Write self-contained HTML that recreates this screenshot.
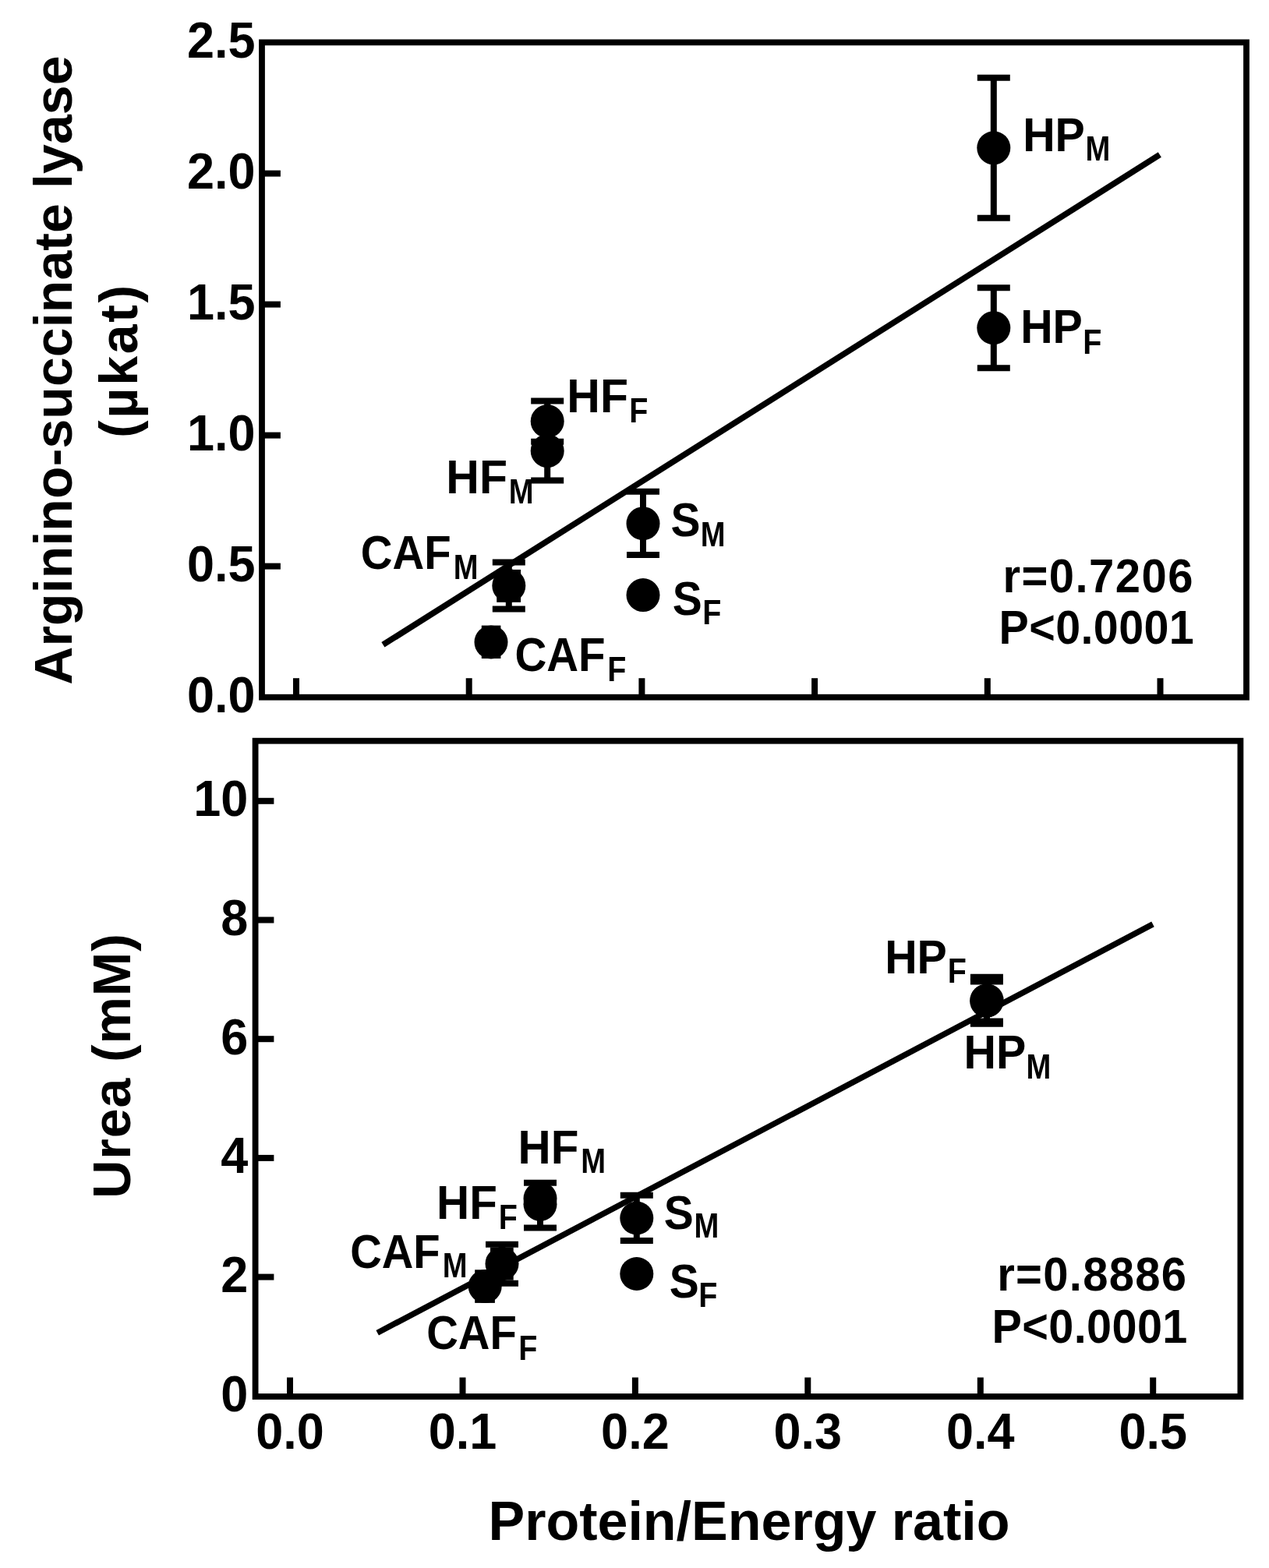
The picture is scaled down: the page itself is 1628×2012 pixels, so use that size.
<!DOCTYPE html>
<html lang="en">
<head>
<meta charset="utf-8">
<title>Protein/Energy ratio correlations</title>
<style>
html,body{margin:0;padding:0;background:#fff;}
body{width:1628px;height:2012px;overflow:hidden;}
svg{display:block;font-family:"Liberation Sans",sans-serif;font-weight:bold;fill:#000;}
</style>
</head>
<body>
<svg width="1628" height="2012" viewBox="0 0 1628 2012">
<rect x="0" y="0" width="1628" height="2012" fill="#fff"/>
<rect x="336.0" y="54.4" width="1263.0" height="840.3000000000001" fill="none" stroke="#000" stroke-width="7.8"/>
<line x1="380.0" y1="894.7" x2="380.0" y2="870.2" stroke="#000" stroke-width="8" stroke-linecap="butt"/>
<line x1="601.7" y1="894.7" x2="601.7" y2="870.2" stroke="#000" stroke-width="8" stroke-linecap="butt"/>
<line x1="823.4" y1="894.7" x2="823.4" y2="870.2" stroke="#000" stroke-width="8" stroke-linecap="butt"/>
<line x1="1045.1" y1="894.7" x2="1045.1" y2="870.2" stroke="#000" stroke-width="8" stroke-linecap="butt"/>
<line x1="1266.8" y1="894.7" x2="1266.8" y2="870.2" stroke="#000" stroke-width="8" stroke-linecap="butt"/>
<line x1="1488.5" y1="894.7" x2="1488.5" y2="870.2" stroke="#000" stroke-width="8" stroke-linecap="butt"/>
<text transform="translate(327.50,914.40) scale(1,1.02)" font-size="63" text-anchor="end">0.0</text>
<line x1="336.0" y1="726.6" x2="359.9" y2="726.6" stroke="#000" stroke-width="8" stroke-linecap="butt"/>
<text transform="translate(327.50,746.40) scale(1,1.02)" font-size="63" text-anchor="end">0.5</text>
<line x1="336.0" y1="558.6" x2="359.9" y2="558.6" stroke="#000" stroke-width="8" stroke-linecap="butt"/>
<text transform="translate(327.50,578.40) scale(1,1.02)" font-size="63" text-anchor="end">1.0</text>
<line x1="336.0" y1="390.6" x2="359.9" y2="390.6" stroke="#000" stroke-width="8" stroke-linecap="butt"/>
<text transform="translate(327.50,410.40) scale(1,1.02)" font-size="63" text-anchor="end">1.5</text>
<line x1="336.0" y1="222.6" x2="359.9" y2="222.6" stroke="#000" stroke-width="8" stroke-linecap="butt"/>
<text transform="translate(327.50,242.40) scale(1,1.02)" font-size="63" text-anchor="end">2.0</text>
<text transform="translate(327.50,74.40) scale(1,1.02)" font-size="63" text-anchor="end">2.5</text>
<line x1="491.4" y1="827.3" x2="1487.8" y2="198.6" stroke="#000" stroke-width="7.7" stroke-linecap="butt"/>
<line x1="702.2" y1="540.6" x2="702.2" y2="514.5" stroke="#000" stroke-width="8.0" stroke-linecap="butt"/>
<line x1="681.2" y1="514.5" x2="723.2" y2="514.5" stroke="#000" stroke-width="8.0" stroke-linecap="butt"/>
<line x1="702.2" y1="540.6" x2="702.2" y2="566.8" stroke="#000" stroke-width="8.0" stroke-linecap="butt"/>
<line x1="681.2" y1="566.8" x2="723.2" y2="566.8" stroke="#000" stroke-width="8.0" stroke-linecap="butt"/>
<line x1="702.2" y1="578.8" x2="702.2" y2="616.6" stroke="#000" stroke-width="8.0" stroke-linecap="butt"/>
<line x1="681.2" y1="616.6" x2="723.2" y2="616.6" stroke="#000" stroke-width="8.0" stroke-linecap="butt"/>
<line x1="825.0" y1="671.9" x2="825.0" y2="630.7" stroke="#000" stroke-width="8.0" stroke-linecap="butt"/>
<line x1="804.0" y1="630.7" x2="846.0" y2="630.7" stroke="#000" stroke-width="8.0" stroke-linecap="butt"/>
<line x1="825.0" y1="671.9" x2="825.0" y2="711.9" stroke="#000" stroke-width="8.0" stroke-linecap="butt"/>
<line x1="804.0" y1="711.9" x2="846.0" y2="711.9" stroke="#000" stroke-width="8.0" stroke-linecap="butt"/>
<line x1="652.8" y1="751.5" x2="652.8" y2="721.5" stroke="#000" stroke-width="8.0" stroke-linecap="butt"/>
<line x1="631.8" y1="721.5" x2="673.8" y2="721.5" stroke="#000" stroke-width="8.0" stroke-linecap="butt"/>
<line x1="652.8" y1="751.5" x2="652.8" y2="781.5" stroke="#000" stroke-width="8.0" stroke-linecap="butt"/>
<line x1="631.8" y1="781.5" x2="673.8" y2="781.5" stroke="#000" stroke-width="8.0" stroke-linecap="butt"/>
<line x1="1274.8" y1="189.8" x2="1274.8" y2="99.8" stroke="#000" stroke-width="8.0" stroke-linecap="butt"/>
<line x1="1253.8" y1="99.8" x2="1295.8" y2="99.8" stroke="#000" stroke-width="8.0" stroke-linecap="butt"/>
<line x1="1274.8" y1="189.8" x2="1274.8" y2="279.8" stroke="#000" stroke-width="8.0" stroke-linecap="butt"/>
<line x1="1253.8" y1="279.8" x2="1295.8" y2="279.8" stroke="#000" stroke-width="8.0" stroke-linecap="butt"/>
<line x1="1274.8" y1="420.7" x2="1274.8" y2="369.2" stroke="#000" stroke-width="8.0" stroke-linecap="butt"/>
<line x1="1253.8" y1="369.2" x2="1295.8" y2="369.2" stroke="#000" stroke-width="8.0" stroke-linecap="butt"/>
<line x1="1274.8" y1="420.7" x2="1274.8" y2="472.2" stroke="#000" stroke-width="8.0" stroke-linecap="butt"/>
<line x1="1253.8" y1="472.2" x2="1295.8" y2="472.2" stroke="#000" stroke-width="8.0" stroke-linecap="butt"/>
<circle cx="702.2" cy="540.6" r="21.5" fill="#000"/>
<circle cx="702.2" cy="578.6" r="21.5" fill="#000"/>
<circle cx="825.0" cy="671.7" r="21.5" fill="#000"/>
<circle cx="825.0" cy="763.6" r="21.5" fill="#000"/>
<circle cx="652.8" cy="751.5" r="21.5" fill="#000"/>
<circle cx="630.0" cy="824.0" r="21.5" fill="#000"/>
<circle cx="1274.8" cy="189.8" r="21.5" fill="#000"/>
<circle cx="1274.8" cy="420.7" r="21.5" fill="#000"/>
<rect x="617.8" y="802.6" width="24.6" height="42.4" fill="#000"/>
<rect x="637.2" y="730.9" width="30.9" height="41.9" fill="#000"/>
<text transform="translate(1312.16,194.00) scale(1,1.064)" font-size="57.4" text-anchor="start">HP</text>
<text transform="translate(1392.54,205.90) scale(1,1.141)" font-size="38.2" text-anchor="start">M</text>
<text transform="translate(1309.16,440.40) scale(1,1.064)" font-size="57.4" text-anchor="start">HP</text>
<text transform="translate(1389.36,453.70) scale(1,1.104)" font-size="39.5" text-anchor="start">F</text>
<text transform="translate(727.35,528.70) scale(1,1.035)" font-size="59" text-anchor="start">HF</text>
<text transform="translate(807.16,541.90) scale(1,1.104)" font-size="39.5" text-anchor="start">F</text>
<text transform="translate(572.35,633.30) scale(1,1.035)" font-size="59" text-anchor="start">HF</text>
<text transform="translate(652.84,646.20) scale(1,1.141)" font-size="38.2" text-anchor="start">M</text>
<text transform="translate(860.56,687.70) scale(1,1.071)" font-size="57" text-anchor="start">S</text>
<text transform="translate(898.84,700.50) scale(1,1.141)" font-size="38.2" text-anchor="start">M</text>
<text transform="translate(862.86,789.00) scale(1,1.071)" font-size="57" text-anchor="start">S</text>
<text transform="translate(901.16,800.70) scale(1,1.104)" font-size="39.5" text-anchor="start">F</text>
<text transform="translate(462.69,730.00) scale(1,1.082)" font-size="56.4" text-anchor="start">CAF</text>
<text transform="translate(581.64,742.50) scale(1,1.141)" font-size="38.2" text-anchor="start">M</text>
<text transform="translate(660.38,860.50) scale(1,1.079)" font-size="56.6" text-anchor="start">CAF</text>
<text transform="translate(779.36,874.00) scale(1,1.104)" font-size="39.5" text-anchor="start">F</text>
<text transform="translate(1286.40,760.20) scale(1,1.04)" font-size="58" text-anchor="start" letter-spacing="1.47">r=0.7206</text>
<text transform="translate(1281.60,826.30) scale(1,1.05)" font-size="57.4" text-anchor="start" letter-spacing="0.4">P&lt;0.0001</text>
<text transform="translate(92.20,475.00) rotate(-90) scale(1,1.0)" font-size="68" text-anchor="middle" letter-spacing="0.1">Arginino-succinate lyase</text>
<text transform="translate(176.00,462.55) rotate(-90) scale(1,1.0)" font-size="68" text-anchor="middle" letter-spacing="2.7">(µkat)</text>
<rect x="327.6" y="950.7" width="1263.8000000000002" height="841.3" fill="none" stroke="#000" stroke-width="7.8"/>
<line x1="372.0" y1="1792.0" x2="372.0" y2="1767.5" stroke="#000" stroke-width="8" stroke-linecap="butt"/>
<text transform="translate(372.00,1859.20) scale(1,1.04)" font-size="63" text-anchor="middle">0.0</text>
<line x1="593.5" y1="1792.0" x2="593.5" y2="1767.5" stroke="#000" stroke-width="8" stroke-linecap="butt"/>
<text transform="translate(593.45,1859.20) scale(1,1.04)" font-size="63" text-anchor="middle">0.1</text>
<line x1="814.9" y1="1792.0" x2="814.9" y2="1767.5" stroke="#000" stroke-width="8" stroke-linecap="butt"/>
<text transform="translate(814.90,1859.20) scale(1,1.04)" font-size="63" text-anchor="middle">0.2</text>
<line x1="1036.3" y1="1792.0" x2="1036.3" y2="1767.5" stroke="#000" stroke-width="8" stroke-linecap="butt"/>
<text transform="translate(1036.35,1859.20) scale(1,1.04)" font-size="63" text-anchor="middle">0.3</text>
<line x1="1257.8" y1="1792.0" x2="1257.8" y2="1767.5" stroke="#000" stroke-width="8" stroke-linecap="butt"/>
<text transform="translate(1257.80,1859.20) scale(1,1.04)" font-size="63" text-anchor="middle">0.4</text>
<line x1="1479.2" y1="1792.0" x2="1479.2" y2="1767.5" stroke="#000" stroke-width="8" stroke-linecap="butt"/>
<text transform="translate(1479.25,1859.20) scale(1,1.04)" font-size="63" text-anchor="middle">0.5</text>
<text transform="translate(318.30,1810.60) scale(1,1.04)" font-size="63" text-anchor="end">0</text>
<line x1="327.6" y1="1638.6" x2="351.4" y2="1638.6" stroke="#000" stroke-width="8" stroke-linecap="butt"/>
<text transform="translate(318.30,1657.90) scale(1,1.04)" font-size="63" text-anchor="end">2</text>
<line x1="327.6" y1="1485.9" x2="351.4" y2="1485.9" stroke="#000" stroke-width="8" stroke-linecap="butt"/>
<text transform="translate(318.30,1505.20) scale(1,1.04)" font-size="63" text-anchor="end">4</text>
<line x1="327.6" y1="1333.2" x2="351.4" y2="1333.2" stroke="#000" stroke-width="8" stroke-linecap="butt"/>
<text transform="translate(318.30,1352.50) scale(1,1.04)" font-size="63" text-anchor="end">6</text>
<line x1="327.6" y1="1180.5" x2="351.4" y2="1180.5" stroke="#000" stroke-width="8" stroke-linecap="butt"/>
<text transform="translate(318.30,1199.80) scale(1,1.04)" font-size="63" text-anchor="end">8</text>
<line x1="327.6" y1="1027.8" x2="351.4" y2="1027.8" stroke="#000" stroke-width="8" stroke-linecap="butt"/>
<text transform="translate(318.30,1047.10) scale(1,1.04)" font-size="63" text-anchor="end">10</text>
<line x1="484.2" y1="1710.2" x2="1479.0" y2="1185.9" stroke="#000" stroke-width="7.5" stroke-linecap="butt"/>
<line x1="693.0" y1="1538.0" x2="693.0" y2="1517.8" stroke="#000" stroke-width="8.0" stroke-linecap="butt"/>
<line x1="672.0" y1="1517.8" x2="714.0" y2="1517.8" stroke="#000" stroke-width="8.0" stroke-linecap="butt"/>
<line x1="693.0" y1="1545.3" x2="693.0" y2="1575.6" stroke="#000" stroke-width="8.0" stroke-linecap="butt"/>
<line x1="672.0" y1="1575.6" x2="714.0" y2="1575.6" stroke="#000" stroke-width="8.0" stroke-linecap="butt"/>
<line x1="816.8" y1="1563.0" x2="816.8" y2="1533.8" stroke="#000" stroke-width="8.0" stroke-linecap="butt"/>
<line x1="795.8" y1="1533.8" x2="837.8" y2="1533.8" stroke="#000" stroke-width="8.0" stroke-linecap="butt"/>
<line x1="816.8" y1="1563.0" x2="816.8" y2="1592.0" stroke="#000" stroke-width="8.0" stroke-linecap="butt"/>
<line x1="795.8" y1="1592.0" x2="837.8" y2="1592.0" stroke="#000" stroke-width="8.0" stroke-linecap="butt"/>
<line x1="644.0" y1="1621.6" x2="644.0" y2="1596.8" stroke="#000" stroke-width="8.0" stroke-linecap="butt"/>
<line x1="623.0" y1="1596.8" x2="665.0" y2="1596.8" stroke="#000" stroke-width="8.0" stroke-linecap="butt"/>
<line x1="644.0" y1="1621.6" x2="644.0" y2="1646.7" stroke="#000" stroke-width="8.0" stroke-linecap="butt"/>
<line x1="623.0" y1="1646.7" x2="665.0" y2="1646.7" stroke="#000" stroke-width="8.0" stroke-linecap="butt"/>
<line x1="1265.9" y1="1283.8" x2="1265.9" y2="1253.7" stroke="#000" stroke-width="8.0" stroke-linecap="butt"/>
<line x1="1244.9" y1="1253.7" x2="1286.9" y2="1253.7" stroke="#000" stroke-width="8.0" stroke-linecap="butt"/>
<line x1="1265.9" y1="1283.8" x2="1265.9" y2="1313.8" stroke="#000" stroke-width="8.0" stroke-linecap="butt"/>
<line x1="1244.9" y1="1313.8" x2="1286.9" y2="1313.8" stroke="#000" stroke-width="8.0" stroke-linecap="butt"/>
<line x1="1265.9" y1="1283.8" x2="1265.9" y2="1259.6" stroke="#000" stroke-width="8.0" stroke-linecap="butt"/>
<line x1="1244.9" y1="1259.6" x2="1286.9" y2="1259.6" stroke="#000" stroke-width="8.0" stroke-linecap="butt"/>
<line x1="1265.9" y1="1283.8" x2="1265.9" y2="1310.4" stroke="#000" stroke-width="8.0" stroke-linecap="butt"/>
<line x1="1244.9" y1="1310.4" x2="1286.9" y2="1310.4" stroke="#000" stroke-width="8.0" stroke-linecap="butt"/>
<circle cx="693.0" cy="1538.0" r="21.5" fill="#000"/>
<circle cx="693.0" cy="1545.3" r="21.5" fill="#000"/>
<circle cx="816.8" cy="1563.0" r="21.5" fill="#000"/>
<circle cx="816.8" cy="1634.5" r="21.5" fill="#000"/>
<circle cx="644.0" cy="1621.6" r="21.5" fill="#000"/>
<circle cx="622.2" cy="1650.6" r="21.5" fill="#000"/>
<circle cx="1265.6" cy="1284.2" r="21.5" fill="#000"/>
<circle cx="1266.2" cy="1283.8" r="21.5" fill="#000"/>
<rect x="609.2" y="1629.3" width="25.7" height="42.6" fill="#000"/>
<rect x="629.0" y="1600.5" width="29.7" height="42.2" fill="#000"/>
<text transform="translate(1135.16,1249.30) scale(1,1.064)" font-size="57.4" text-anchor="start">HP</text>
<text transform="translate(1215.76,1261.30) scale(1,1.104)" font-size="39.5" text-anchor="start">F</text>
<text transform="translate(1236.56,1370.70) scale(1,1.064)" font-size="57.4" text-anchor="start">HP</text>
<text transform="translate(1316.44,1383.70) scale(1,1.141)" font-size="38.2" text-anchor="start">M</text>
<text transform="translate(664.59,1492.80) scale(1,1.045)" font-size="58.4" text-anchor="start">HF</text>
<text transform="translate(745.14,1504.80) scale(1,1.141)" font-size="38.2" text-anchor="start">M</text>
<text transform="translate(560.09,1563.70) scale(1,1.045)" font-size="58.4" text-anchor="start">HF</text>
<text transform="translate(639.76,1577.00) scale(1,1.104)" font-size="39.5" text-anchor="start">F</text>
<text transform="translate(851.86,1576.60) scale(1,1.071)" font-size="57" text-anchor="start">S</text>
<text transform="translate(890.44,1587.90) scale(1,1.141)" font-size="38.2" text-anchor="start">M</text>
<text transform="translate(858.66,1665.00) scale(1,1.071)" font-size="57" text-anchor="start">S</text>
<text transform="translate(896.36,1677.00) scale(1,1.104)" font-size="39.5" text-anchor="start">F</text>
<text transform="translate(449.19,1626.70) scale(1,1.086)" font-size="56.2" text-anchor="start">CAF</text>
<text transform="translate(567.74,1639.20) scale(1,1.141)" font-size="38.2" text-anchor="start">M</text>
<text transform="translate(547.19,1731.30) scale(1,1.084)" font-size="56.3" text-anchor="start">CAF</text>
<text transform="translate(665.36,1744.50) scale(1,1.104)" font-size="39.5" text-anchor="start">F</text>
<text transform="translate(1279.20,1656.40) scale(1,1.04)" font-size="58" text-anchor="start" letter-spacing="1.29">r=0.8886</text>
<text transform="translate(1272.40,1722.90) scale(1,1.05)" font-size="57.6" text-anchor="start" letter-spacing="0.4">P&lt;0.0001</text>
<text transform="translate(167.00,1537.70) rotate(-90) scale(1,1.0)" font-size="68" text-anchor="start" letter-spacing="0.9">Urea (mM)</text>
<text transform="translate(961.00,1976.00) scale(1,1.0)" font-size="70" text-anchor="middle">Protein/Energy ratio</text>
</svg>
</body>
</html>
